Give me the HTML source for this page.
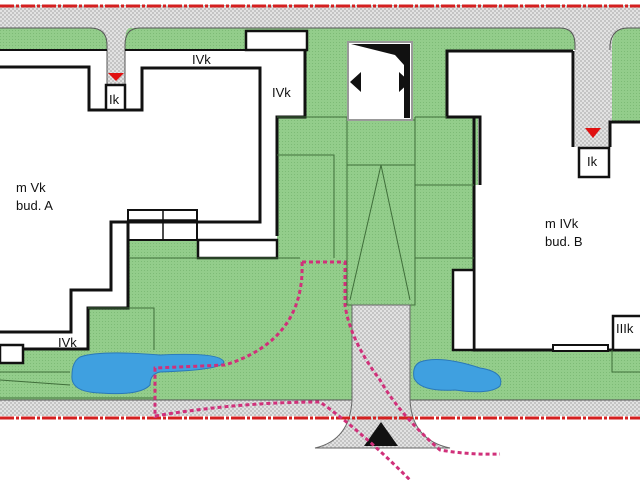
<!DOCTYPE html>
<html><head><meta charset="utf-8"><style>
html,body{margin:0;padding:0;background:#fff;}
svg{display:block;}
text{font-family:"Liberation Sans",sans-serif;font-size:13px;fill:#111;}
</style></head><body>
<svg width="640" height="480" viewBox="0 0 640 480" xmlns="http://www.w3.org/2000/svg">
<defs>
<pattern id="hat" width="4" height="4" patternUnits="userSpaceOnUse">
<rect width="4" height="4" fill="#e2e2e2"/><rect width="2" height="2" fill="#c4c4c4"/><rect x="2" y="2" width="2" height="2" fill="#c4c4c4"/>
</pattern>
<pattern id="grn" width="3" height="3" patternUnits="userSpaceOnUse">
<rect width="3" height="3" fill="#93cd8b"/><rect width="1" height="1" fill="#7dbb76"/>
</pattern>
</defs>
<rect width="640" height="480" fill="#fff"/>
<rect x="0" y="28" width="640" height="372" fill="url(#grn)"/>
<!-- building A white -->
<path d="M0,50 H305 V117 H277 V258 H198 V240 H128 V308 H88 V350 H0 Z" fill="#fff"/>
<!-- top road -->
<path d="M0,5 H640 V28 H628 Q612,28 612,45 V122 H610 V147 H575 V45 Q575,28 560,28 H130 Q125,28 125,45 V85 H107 V45 Q107,28 90,28 H0 Z" fill="url(#hat)"/>
<path d="M0,28 H90 Q107,28 107,45 V85 M125,85 V45 Q125,28 140,28 H560 Q575,28 575,45 V147 M610,147 V45 Q612,28 628,28 H640" fill="none" stroke="#555" stroke-width="1"/>
<line x1="0" y1="6" x2="640" y2="6" stroke="#d42020" stroke-width="3" stroke-dasharray="14,2,3,2"/>
<rect x="246" y="31" width="61" height="19" fill="#fff" stroke="#111" stroke-width="2.5"/>
<path d="M0,50 H107 M125,50 H305" stroke="#111" stroke-width="2"/>
<path d="M305,50 V117 H277 V236" fill="none" stroke="#111" stroke-width="3"/>
<path d="M0,67 H89 V110 H142 V68 H260 V222 H111 V290 H71 V332 H0" fill="none" stroke="#111" stroke-width="3"/>
<path d="M128,222 V308 H88 V349 H0" fill="none" stroke="#111" stroke-width="3"/>
<rect x="128" y="210" width="69" height="30" fill="none" stroke="#111" stroke-width="2"/>
<line x1="163" y1="210" x2="163" y2="240" stroke="#111" stroke-width="1.5"/>
<line x1="128" y1="220" x2="197" y2="220" stroke="#111" stroke-width="1.5"/>
<rect x="198" y="240" width="79" height="18" fill="#fff" stroke="#111" stroke-width="2.5"/>
<rect x="0" y="345" width="23" height="18" fill="#fff" stroke="#111" stroke-width="2.5"/>
<rect x="106" y="85" width="19" height="25" fill="#fff" stroke="#111" stroke-width="2.5"/>
<path d="M108,73 H124 L116,81 Z" fill="#e01010"/>
<text x="109" y="104">Ik</text>
<text x="192" y="64">IVk</text>
<text x="272" y="97">IVk</text>
<text x="16" y="192">m Vk</text>
<text x="16" y="210">bud. A</text>
<text x="58" y="347">IVk</text>
<!-- building B -->
<path d="M447,50 H575 V147 H610 V122 H640 V350 H474 V185 H478 V117 H447 Z" fill="#fff"/>
<path d="M575,147 V50 H612 V122 H610 V147 Z" fill="url(#hat)"/>
<path d="M573,51 H447 V117 H480 V185 M474,117 V350 H640" fill="none" stroke="#111" stroke-width="3"/>
<path d="M573,51 V147 M610,147 V122 H640" fill="none" stroke="#111" stroke-width="3"/>
<rect x="453" y="270" width="21" height="80" fill="#fff" stroke="#111" stroke-width="2.5"/>
<rect x="553" y="345" width="55" height="6" fill="#fff" stroke="#111" stroke-width="2"/>
<rect x="613" y="316" width="30" height="34" fill="#fff" stroke="#111" stroke-width="2.5"/>
<text x="616" y="333">IIIk</text>
<rect x="579" y="148" width="30" height="29" fill="#fff" stroke="#111" stroke-width="2.5"/>
<path d="M585,128 H601 L593,138 Z" fill="#e01010"/>
<text x="587" y="166">Ik</text>
<text x="545" y="228">m IVk</text>
<text x="545" y="246">bud. B</text>
<g stroke="#3f6e3a" stroke-width="1" fill="none">
<path d="M277,155 H334 V258"/>
<path d="M415,185 H474 M415,258 H474 M415,117 V300 M347,117 V300"/>
<path d="M130,258 H300 M88,308 H154 V350 M0,380 L70,385 M0,398 H155"/>
<path d="M277,117 H347 M415,117 H447"/>
<path d="M612,350 V372 H640"/>
<path d="M0,372 H70"/>
</g>
<rect x="347" y="120" width="68" height="185" fill="url(#grn)" stroke="#3f6e3a"/>
<line x1="347" y1="165" x2="415" y2="165" stroke="#3f6e3a"/>
<path d="M350,300 L381,165 L410,300" fill="none" stroke="#3f6e3a"/>
<rect x="348" y="42" width="64" height="78" fill="#fff" stroke="#999" stroke-width="2"/>
<path d="M351,44 L410,44 L410,118 L404,118 L404,65 L395,55 Z" fill="#111"/>
<path d="M350,82 L361,72 L361,92 Z M410,82 L399,72 L399,92 Z" fill="#111"/>
<rect x="0" y="400" width="640" height="16" fill="url(#hat)"/>
<line x1="0" y1="400" x2="640" y2="400" stroke="#555"/>
<path d="M352,305 H410 V400 Q412,440 450,448 H315 Q350,440 352,400 Z" fill="url(#hat)" stroke="#666"/>
<line x1="0" y1="418" x2="640" y2="418" stroke="#d42020" stroke-width="3" stroke-dasharray="14,2,3,2"/>
<path d="M364,446 L381,422 L398,446 Z" fill="#111"/>
<path d="M80,357 Q100,350 160,355 Q220,352 224,362 Q222,370 160,372 Q150,374 150,385 Q140,396 100,393 Q70,392 72,375 Q72,362 80,357 Z" fill="#3fa0e0" stroke="#2a78b8"/>
<path d="M420,362 Q440,355 480,368 Q505,372 500,386 Q490,395 455,390 Q420,392 414,378 Q412,366 420,362 Z" fill="#3fa0e0" stroke="#2a78b8"/>
<g fill="none" stroke="#d0307a" stroke-width="3" stroke-dasharray="4,3">
<path d="M302,262 Q305,340 225,365 L155,368 V418"/>
<path d="M302,262 H345 V305 Q350,340 380,380 Q400,415 440,450 Q470,455 500,454"/>
<path d="M155,416 Q240,402 320,402 Q360,430 410,480"/>
</g>
</svg>
</body></html>
